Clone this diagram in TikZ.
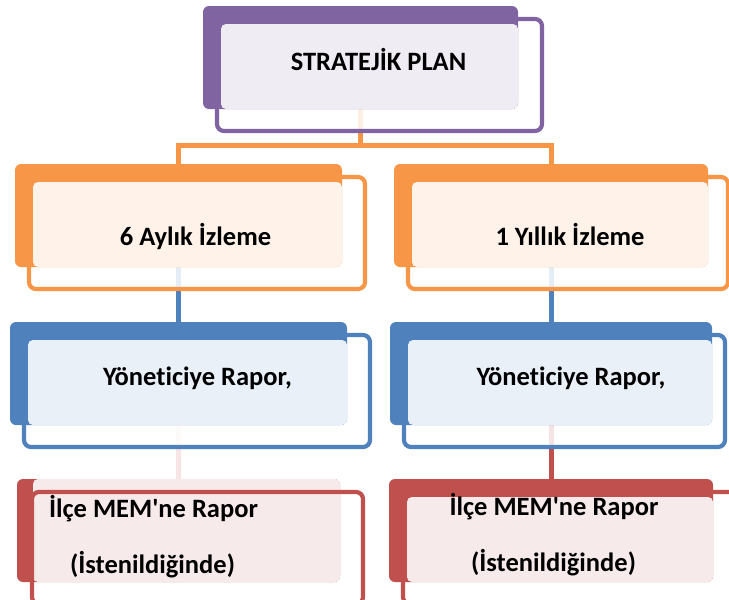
\documentclass[tikz,border=0pt]{standalone}
\usepackage{fontspec}
\setmainfont{Carlito}[Ligatures={TeXOff,NoCommon}]
\usetikzlibrary{calc,backgrounds}
\definecolor{plum}{RGB}{128,100,162}
\definecolor{tangerine}{RGB}{247,150,70}
\definecolor{steel}{RGB}{79,129,189}
\definecolor{rust}{RGB}{192,80,77}
\tikzset{
  backbox/.style={fill=#1,rounded corners=6pt,inner sep=0pt,outer sep=0pt,
    minimum height=103pt,anchor=north west},
  frontbox/.style={draw=#1,line width=4.2pt,fill=white,fill opacity=0.85,
    rounded corners=7pt,inner sep=0pt,outer sep=0pt,minimum height=112pt,anchor=north west},
  tint/.style={fill=#1!12,rounded corners=5pt},
  link/.style={line width=5pt,draw=#1},
  boxtext/.style={font=\fontsize{26.5}{30}\selectfont\bfseries,anchor=base,inner sep=0pt},
}
\begin{document}
\begin{tikzpicture}[x=1pt,y=-1pt]
  \useasboundingbox (0,0) rectangle (729,600);
  % boxes: frame, solid back, light panel
  \foreach \n/\c/\x/\y/\w/\e in {plan/plum/203/6/315/24,six/tangerine/15/164/327/23,year/tangerine/394/164/314/20,repL/steel/10/322/337/23,repR/steel/390/322/322/13,memR/rust/389/479/324/23}{
    \node[frontbox=\c,minimum width=\w+\e-14] (\n-f) at ({\x+14},{\y+13}) {};
    \node[backbox=\c,minimum width=\w] (\n) at (\x,\y) {};
    \fill[tint=\c] ($(\n-f.north west)+(4,5)$) rectangle (\n.south east);
  }
  % this one has its frame on top
  \node[backbox=rust,minimum width=323] (memL) at (17,479) {};
  \fill[tint=rust] ($(memL.north west)+(16,0)$) rectangle (memL.south east);
  \node[frontbox=rust,fill=none,minimum width=331] (memL-f) at (32,492) {};
  % texts
  \foreach \n/\x/\y/\t in {plan/378.5/70/STRATEJİK PLAN,six/195.5/245/6 Aylık İzleme,year/570/245/1 Yıllık İzleme,repL/197.5/385/{Yöneticiye Rapor,},repR/571/385/{Yöneticiye Rapor,},memL-a/153.5/517/İlçe MEM'ne Rapor,memL-b/152.5/573/(İstenildiğinde),memR-a/554/515/İlçe MEM'ne Rapor,memR-b/553.5/571/(İstenildiğinde)}
    \node[boxtext] (\n-t) at (\x,\y) {\t};
  \begin{scope}[on background layer]
    \fill[white] (0,0) rectangle (729,600);
    \coordinate (fork) at (360.5,145);
    \draw[link=tangerine] (plan) -- (fork);
    \draw[link=tangerine] (six.north) |- (fork) -| (year.north);
    \draw[link=steel] (six) -- (repL);
    \draw[link=steel] (year) -- (repR);
    \draw[link=rust!15] (repL) -- (memL);
    \draw[link=rust] (repR) -- (memR);
  \end{scope}
\end{tikzpicture}
\end{document}
